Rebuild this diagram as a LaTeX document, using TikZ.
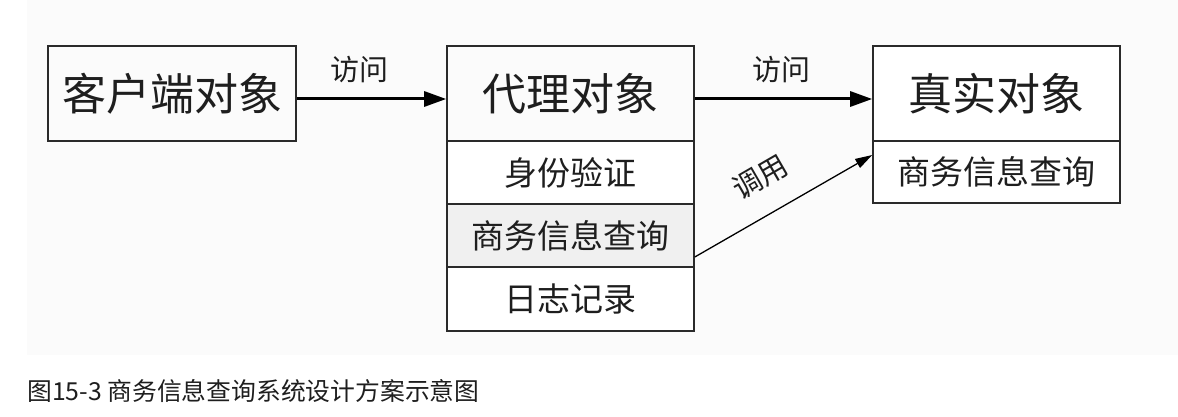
\documentclass[tikz,border=0pt]{standalone}
\usepackage{fontspec}
\setmainfont{Noto Sans CJK SC}
\newfontfamily\cjk{Noto Sans CJK SC}
\usetikzlibrary{arrows.meta}
\definecolor{linec}{HTML}{2A2A2A}
\definecolor{txtc}{HTML}{1E1E1E}
\tikzset{
  box/.style={draw=linec, line width=1.6pt, rectangle, inner sep=0pt, text=txtc, font=\cjk\fontsize{44}{48}\selectfont},
  subbox/.style={box, font=\cjk\fontsize{33}{38}\selectfont},
  lbl/.style={text=txtc, font=\cjk\fontsize{29}{32}\selectfont, inner sep=0pt},
  thickarrow/.style={draw=black, line width=3pt, -{Triangle[length=22pt,width=15pt]}},
  thinarrow/.style={draw=black, line width=1.3pt, -{Triangle[length=17pt,width=10pt]}}
}
\begin{document}
\begin{tikzpicture}[x=1pt,y=-1pt]
\useasboundingbox (0,0) rectangle (1178,417);
\fill[white] (0,0) rectangle (1178,417);
\fill[black!1.5] (27,0) rectangle (1178,355);
% client
\node[box, minimum width=248pt, minimum height=95pt] (client) at (172,93.5) {客户端对象};
% proxy
\node[box, minimum width=247pt, minimum height=95pt] (proxy) at (570.5,93.5) {代理对象};
\node[subbox, minimum width=247pt, minimum height=63pt, fill=white] (p1) at (570.5,172.5) {身份验证};
\node[subbox, minimum width=247pt, minimum height=63pt, fill=black!6] (p2) at (570.5,235.5) {商务信息查询};
\node[subbox, minimum width=247pt, minimum height=64pt, fill=white] (p3) at (570.5,299) {日志记录};
% real
\node[box, minimum width=247pt, minimum height=95pt, fill=white] (real) at (996.5,93.5) {真实对象};
\node[subbox, minimum width=247pt, minimum height=62pt, fill=white] (r1) at (996.5,172) {商务信息查询};
% arrows
\draw[thickarrow] ([yshift=-5.5pt]client.east) -- ([yshift=-5.5pt]proxy.west);
\draw[thickarrow] ([yshift=-5.5pt]proxy.east) -- ([yshift=-5.5pt]real.west);
\draw[thinarrow] ([yshift=-21.5pt]p2.east) -- ([yshift=17pt]r1.west);
% labels
\node[lbl] (l1) at (359,70) {访问};
\node[lbl] (l2) at (781,70) {访问};
\node[lbl, rotate=30] (l3) at (760,177) {调用};
% caption
\node[anchor=west, inner sep=0pt, text=txtc, font=\cjk\fontsize{24.8}{28}\selectfont] (cap) at (27,391) {图15-3 商务信息查询系统设计方案示意图};
\end{tikzpicture}
\end{document}
